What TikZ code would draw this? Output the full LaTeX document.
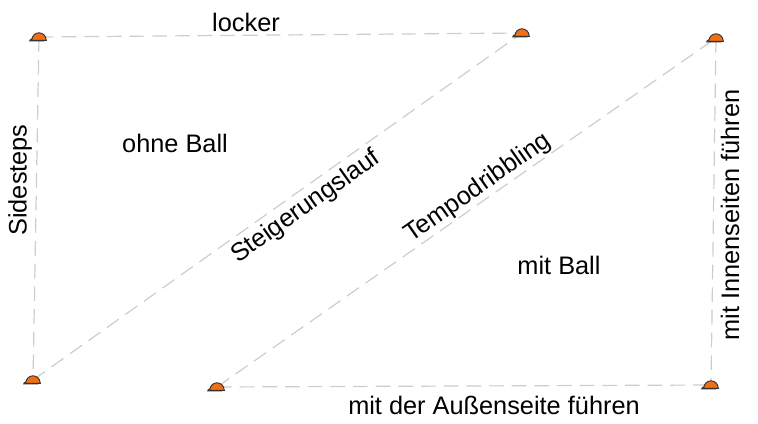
\documentclass[tikz,border=0pt]{standalone}
\usepackage{fontspec}
\setmainfont{Liberation Sans}
\definecolor{conefill}{RGB}{240,110,20}
\definecolor{trackgray}{RGB}{205,205,205}
\newcommand{\markcone}[2]{%
  \coordinate (#1) at (#2);
  \draw[line width=0.7pt, fill=conefill, draw=black!80] ([xshift=-7,yshift=-3]#1) arc (180:360:7 and 3) -- cycle;
  \draw[line width=0.7pt, fill=conefill, draw=black!80] ([xshift=-5.5,yshift=-2.5]#1) .. controls ([xshift=-5,yshift=5]#1) and ([xshift=5,yshift=5]#1) .. ([xshift=5.5,yshift=-2.5]#1) -- cycle;
}
\begin{document}
\begin{tikzpicture}[
    x=0.75pt, y=-0.75pt,
    track/.style = {draw=trackgray, dash pattern=on 11pt off 6pt, line width=0.9pt},
    label/.style = {font=\fontsize{19}{22}\selectfont, inner sep=0pt}
  ]
  \useasboundingbox (0,0) rectangle (758,424);

  % tracks
  \draw[track] (39,37) -- (522,33);
  \draw[track] (39,37) -- (33,380);
  \draw[track] (33,380) -- (522,33);
  \draw[track] (217,387) -- (716,38);
  \draw[track] (716,38) -- (711,385);
  \draw[track] (217,387) -- (711,385);

  % cones
  \markcone{A}{39,37}
  \markcone{B}{522,33}
  \markcone{C}{716,38}
  \markcone{D}{33,380}
  \markcone{E}{217,387}
  \markcone{F}{711,385}

  % labels
  \node[label] (locker) at (246,22) {locker};
  \node[label, rotate=90] (side) at (20,180) {Sidesteps};
  \node[label] (ohne) at (175,143) {ohne Ball};
  \node[label, rotate=35.4] (steig) at (306,207) {Steigerungslauf};
  \node[label, rotate=35] (tempo) at (478,188) {Tempodribbling};
  \node[label] (mit) at (559,265) {mit Ball};
  \node[label, rotate=90] (innen) at (730,215) {mit Innenseiten führen};
  \node[label] (aussen) at (494,405) {mit der Außenseite führen};
\end{tikzpicture}
\end{document}
